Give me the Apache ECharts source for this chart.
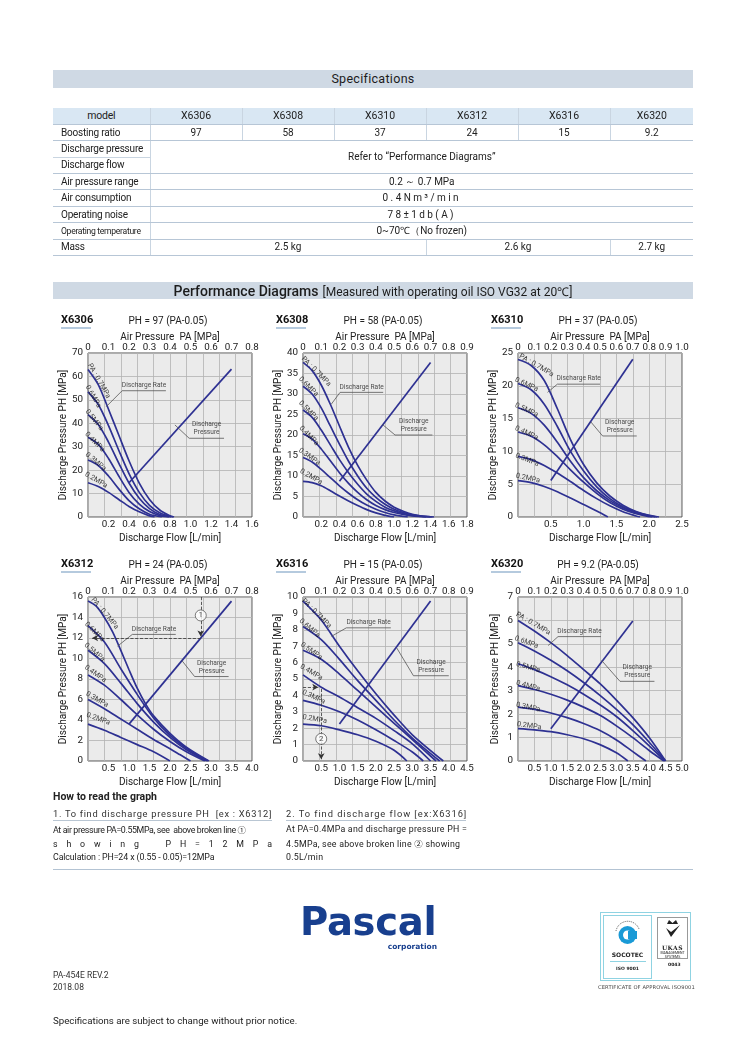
<!DOCTYPE html>
<html>
<head>
<meta charset="utf-8">
<title>Specifications / Performance Diagrams</title>
<script src="https://cdn.jsdelivr.net/npm/echarts/dist/echarts.min.js"></script>
<style>
  html, body { margin: 0; padding: 0; background: #fff; }
  #page { position: relative; width: 746px; height: 1055px; overflow: hidden;
    font-family: Roboto, sans-serif; color: #222; }
  #charts { position: absolute; left: 0; top: 0; width: 746px; height: 1055px; z-index: 1; }
  .abs { position: absolute; z-index: 2; white-space: nowrap; }
  .band { left: 53px; width: 640px; background: #cfd9e4; text-align: center; color: #1c1c1c; }
  #spec { left: 53px; top: 108px; width: 640px; border-collapse: collapse; table-layout: fixed; font-size: 10px; }
  #spec tr { height: 16.4px; }
  #spec td { padding: 0; border-bottom: 1px solid #b7c6d6; border-left: 1px solid #c9d5e1; text-align: center;
    line-height: 14px; white-space: nowrap; overflow: hidden; }
  #spec td.h { text-align: left; padding-left: 8px; border-left: none; letter-spacing: -0.2px; }
  #spec tr.head td { background: #d9e7f3; font-size: 10.5px; }
  .sp { letter-spacing: 2.4px; }
  .cjk { font-family: 'Noto Sans CJK JP'; font-size: 8.5px; }
</style>
</head>
<body>
<div id="page">
  <div id="charts"></div>

  <div class="abs band" style="top:70px;height:18px;line-height:18px;font-size:12.5px;letter-spacing:0.3px;">Specifications</div>
  <table id="spec" class="abs"></table>

  <div class="abs band" style="top:282px;height:17px;line-height:17px;">
    <span style="font-size:14px;font-weight:500;">Performance Diagrams</span>
    <span style="font-size:12px;">[Measured with operating oil ISO VG32 at 20℃]</span>
  </div>

  <div class="abs" style="left:53px;top:790px;font-size:10.5px;font-weight:bold;color:#222;">How to read the graph</div>
  <div class="abs" style="left:53px;top:808px;width:219px;font-size:9.3px;letter-spacing:0.7px;color:#333;border-bottom:1px solid #b9c6d3;padding-bottom:1px;overflow:hidden;">1. To find discharge pressure PH&nbsp; [ex : X6312]</div>
  <div class="abs" style="left:286px;top:808px;width:180px;font-size:9.3px;letter-spacing:0.95px;color:#333;border-bottom:1px solid #b9c6d3;padding-bottom:1px;">2. To find discharge flow [ex:X6316]</div>
  <div class="abs" style="left:53px;top:823px;width:219px;font-size:8.8px;line-height:13.5px;">
    <div style="letter-spacing:-0.35px;">At air pressure PA=0.55MPa, see&nbsp; above broken line <span class="cjk">①</span></div>
    <div style="text-align:justify;text-align-last:justify;white-space:normal;">s h o w i n g &nbsp; P H = 1 2 M P a</div>
    <div style="letter-spacing:-0.1px;">Calculation : PH=24 x (0.55 - 0.05)=12MPa</div>
  </div>
  <div class="abs" style="left:286px;top:823px;width:190px;font-size:8.8px;line-height:13.5px;letter-spacing:0.25px;">
    <div>At PA=0.4MPa and discharge pressure PH =</div>
    <div>4.5MPa, see above broken line <span class="cjk">②</span> showing</div>
    <div>0.5L/min</div>
  </div>
  <div class="abs" style="left:53px;top:869px;width:640px;height:0;border-top:1px solid #b3c3d3;"></div>

  <div class="abs" style="left:300px;top:899px;font-family:'DejaVu Sans';font-weight:bold;font-size:38.5px;color:#183f8e;letter-spacing:-0.3px;">Pascal</div>
  <div class="abs" style="left:377px;top:942px;width:60px;text-align:right;font-family:'DejaVu Sans';font-weight:bold;font-size:7.5px;color:#183f8e;">corporation</div>

  <div class="abs" style="left:53px;top:969px;font-size:8.5px;line-height:12px;color:#333;">PA-454E REV.2<br>2018.08</div>

  <div class="abs" style="left:600px;top:912px;width:89px;height:67px;border:1px solid #8fd3e2;"></div>
  <div class="abs" style="left:603px;top:915px;width:47px;height:62px;border:1px solid #8fd3e2;text-align:center;">
    <svg width="47" height="34" viewBox="0 0 47 34">
      <circle cx="23.5" cy="19" r="9" fill="#1a9ad6"/>
      <circle cx="23.5" cy="19" r="4.5" fill="#fff"/>
      <rect x="24" y="15" width="9" height="8" fill="#1a9ad6"/>
      <path d="M12 15 A12 12 0 0 1 35 13" stroke="#555" stroke-width="1" fill="none" stroke-dasharray="1 1"/>
    </svg>
    <div style="font-family:'DejaVu Sans';font-weight:bold;font-size:6px;margin-top:-3px;">SOCOTEC</div>
    <div style="width:36px;margin:3px auto 0;border-top:1px solid #8fd3e2;"></div>
    <div style="font-family:'DejaVu Sans';font-weight:bold;font-size:4.5px;margin-top:4px;">ISO 9001</div>
  </div>
  <div class="abs" style="left:657px;top:917px;width:29px;height:40px;border:1px solid #999;text-align:center;">
    <svg width="29" height="22" viewBox="0 0 29 22">
      <path d="M9 6 L11 2 L14.5 5 L18 2 L20 6 Z" fill="#222"/>
      <path d="M8 10 L13 19 L22 7 L13 14 Z" fill="#222"/>
    </svg>
    <div style="font-family:'DejaVu Serif';font-weight:bold;font-size:6px;letter-spacing:0.5px;">UKAS</div>
    <div style="font-size:3.5px;line-height:4px;">MANAGEMENT<br>SYSTEMS</div>
  </div>
  <div class="abs" style="left:668px;top:962px;font-family:'DejaVu Sans';font-size:4.5px;font-weight:bold;">0043</div>
  <div class="abs" style="left:598px;top:984px;width:96px;text-align:center;font-family:'DejaVu Sans';font-size:5.2px;color:#444;letter-spacing:0.1px;">CERTIFICATE OF APPROVAL ISO9001</div>

  <div class="abs" style="left:53px;top:1015px;font-size:9.7px;color:#222;">Specifications are subject to change without prior notice.</div>
</div>

<script>
// ---------------- data ----------------
const models = ['X6306', 'X6308', 'X6310', 'X6312', 'X6316', 'X6320'];
const boostRatio = ['97', '58', '37', '24', '15', '9.2'];
const massValues = ['2.5 kg', '2.6 kg', '2.7 kg'];
const massSpans = [3, 2, 1];

// axis ranges of each diagram
const flowMax = [1.6, 1.8, 2.5, 4.0, 4.5, 5.0];
const flowStep = [0.2, 0.2, 0.5, 0.5, 0.5, 0.5];
const paMax = [0.8, 0.9, 1.0, 0.8, 0.9, 1.0];
const phMax = [70, 40, 25, 16, 10, 7];
const phStep = [10, 5, 5, 2, 1, 1];

const paLabels = ['0.2MPa', '0.3MPa', '0.4MPa', '0.5MPa', '0.6MPa', 'PA : 0.7MPa'];

// discharge rate curves [flow L/min, PH MPa], PA = 0.2 ... 0.7
const rate6306 = [
  [[0,14.6],[0.1,13],[0.2,10.5],[0.3,7.5],[0.4,4.5],[0.5,2.2],[0.6,0.5],[0.65,0]],
  [[0,24.3],[0.1,22],[0.2,17.5],[0.3,12],[0.4,7],[0.5,3.5],[0.6,1.2],[0.72,0]],
  [[0,34],[0.1,31],[0.2,25],[0.3,17.5],[0.4,10.5],[0.5,5.5],[0.6,2.3],[0.7,0.6],[0.79,0]],
  [[0,43.7],[0.1,39.5],[0.2,32],[0.3,23],[0.4,14.5],[0.5,8],[0.6,3.6],[0.7,1.1],[0.81,0]],
  [[0,53.4],[0.1,48],[0.2,39],[0.3,28.5],[0.4,18.5],[0.5,10.5],[0.6,5],[0.7,1.8],[0.8,0.2],[0.83,0]],
  [[0,63],[0.1,56.5],[0.2,46],[0.3,35],[0.4,24],[0.5,14.5],[0.6,7.5],[0.7,3],[0.8,0.5],[0.84,0]]
];
const rate6308 = [
  [[0,8.7],[0.1,8.4],[0.2,7.6],[0.3,6.4],[0.4,5.1],[0.5,3.9],[0.6,2.8],[0.7,1.8],[0.8,1],[0.9,0.4],[1.0,0]],
  [[0,14.5],[0.1,13.4],[0.2,11.6],[0.3,9.6],[0.4,7.6],[0.5,5.8],[0.6,4.2],[0.7,2.9],[0.8,1.9],[0.9,1.1],[1.0,0.5],[1.15,0]],
  [[0,20.3],[0.1,19],[0.2,16.6],[0.3,13.7],[0.4,10.8],[0.5,8.2],[0.6,6],[0.7,4.2],[0.8,2.8],[0.9,1.8],[1.0,1.1],[1.1,0.6],[1.2,0.25],[1.35,0]],
  [[0,26.1],[0.1,24.3],[0.2,21.2],[0.3,17.6],[0.4,14],[0.5,10.8],[0.6,8],[0.7,5.6],[0.8,3.8],[0.9,2.4],[1.0,1.5],[1.1,0.85],[1.2,0.4],[1.3,0.15],[1.4,0]],
  [[0,31.9],[0.1,30],[0.2,26.6],[0.3,22.2],[0.4,17.8],[0.5,13.6],[0.6,10],[0.7,7],[0.8,4.8],[0.9,3.1],[1.0,1.9],[1.1,1.1],[1.2,0.5],[1.3,0.2],[1.42,0]],
  [[0,37.7],[0.1,35.7],[0.2,32.2],[0.3,27.5],[0.4,22.2],[0.5,17],[0.6,12.6],[0.7,9],[0.8,6],[0.9,3.9],[1.0,2.4],[1.1,1.4],[1.2,0.65],[1.3,0.2],[1.44,0]]
];
const rate6310 = [
  [[0,5.55],[0.2,5.25],[0.4,4.65],[0.6,3.85],[0.8,2.9],[1.0,1.9],[1.2,0.9],[1.37,0]],
  [[0,9.25],[0.2,8.75],[0.4,7.85],[0.6,6.7],[0.8,5.4],[1.0,4.05],[1.2,2.8],[1.4,1.7],[1.6,0.8],[1.8,0.15],[1.86,0]],
  [[0,12.95],[0.2,12.3],[0.4,11],[0.6,9.2],[0.8,7.2],[1.0,5.3],[1.2,3.6],[1.4,2.2],[1.6,1.2],[1.8,0.5],[2.0,0.05],[2.05,0]],
  [[0,16.65],[0.2,15.8],[0.4,14],[0.6,11.4],[0.8,8.5],[1.0,6],[1.2,4],[1.4,2.5],[1.6,1.4],[1.8,0.65],[2.0,0.15],[2.09,0]],
  [[0,20.35],[0.2,19.4],[0.4,17.2],[0.6,13.8],[0.8,10],[1.0,7],[1.2,4.6],[1.4,2.8],[1.6,1.55],[1.8,0.75],[2.0,0.2],[2.12,0]],
  [[0,24],[0.2,23.1],[0.4,20.8],[0.6,16.5],[0.8,11.8],[1.0,8],[1.2,5.2],[1.4,3.2],[1.6,1.8],[1.8,0.85],[2.0,0.25],[2.15,0]]
];
const rate6312 = [
  [[0,3.6],[0.4,3],[0.8,2.3],[1.2,1.6],[1.6,0.9],[2.0,0]],
  [[0,6],[0.4,5.1],[0.8,4.1],[1.2,3.1],[1.6,2.1],[2.0,1.2],[2.25,0.6],[2.5,0]],
  [[0,8.4],[0.4,7.4],[0.8,6],[1.2,4.5],[1.6,3.1],[2.0,1.9],[2.4,0.9],[2.85,0]],
  [[0,10.8],[0.4,9.5],[0.8,7.6],[1.2,5.6],[1.6,3.8],[2.0,2.3],[2.4,1.1],[2.9,0]],
  [[0,13.2],[0.4,11.6],[0.8,9],[1.2,6.5],[1.6,4.2],[2.0,2.5],[2.4,1.25],[2.93,0]],
  [[0,15.6],[0.2,15.1],[0.4,14],[0.6,12.6],[0.8,10.8],[1.0,8.9],[1.2,7.1],[1.4,5.6],[1.6,4.4],[2.0,2.7],[2.4,1.35],[2.95,0]]
];
const rate6316 = [
  [[0,2.25],[0.5,2.15],[1.0,1.9],[1.5,1.6],[2.0,1.2],[2.5,0.65],[2.85,0]],
  [[0,3.7],[0.5,3.4],[1.0,3.0],[1.5,2.5],[2.0,1.9],[2.5,1.25],[3.0,0.55],[3.3,0]],
  [[0,5.25],[0.5,4.5],[1.0,3.9],[1.5,3.25],[2.0,2.6],[2.5,1.85],[3.0,1.05],[3.5,0]],
  [[0,6.75],[0.5,6.2],[1.0,5.3],[1.5,4.3],[2.0,3.3],[2.5,2.3],[3.0,1.3],[3.65,0]],
  [[0,8.2],[0.5,7.4],[1.0,6.2],[1.5,4.9],[2.0,3.7],[2.5,2.5],[3.0,1.4],[3.75,0]],
  [[0,9.75],[0.5,8.6],[1.0,7.0],[1.5,5.5],[2.0,4.1],[2.5,2.8],[3.0,1.6],[3.85,0]]
];
const rate6320 = [
  [[0,1.38],[0.5,1.33],[1.0,1.25],[1.5,1.12],[2.0,0.95],[2.5,0.7],[3.0,0.35],[3.35,0]],
  [[0,2.3],[0.5,2.2],[1.0,2.05],[1.5,1.85],[2.0,1.6],[2.5,1.3],[3.0,0.9],[3.5,0.4],[3.9,0]],
  [[0,3.22],[0.5,3.05],[1.0,2.85],[1.5,2.6],[2.0,2.3],[2.5,1.95],[3.0,1.5],[3.5,1.0],[4.0,0.45],[4.45,0]],
  [[0,4.15],[0.5,3.9],[1.0,3.6],[1.5,3.25],[2.0,2.85],[2.5,2.4],[3.0,1.9],[3.5,1.3],[4.0,0.65],[4.48,0]],
  [[0,5.05],[0.5,4.7],[1.0,4.3],[1.5,3.85],[2.0,3.35],[2.5,2.8],[3.0,2.2],[3.5,1.55],[4.0,0.8],[4.5,0]],
  [[0,6],[0.5,5.55],[1.0,5.05],[1.5,4.5],[2.0,3.9],[2.5,3.3],[3.0,2.6],[3.5,1.85],[4.0,1.0],[4.5,0]]
];
const rateCurves = [rate6306, rate6308, rate6310, rate6312, rate6316, rate6320];

// discharge pressure lines [PA MPa, PH MPa]
const press6306 = [[0.2, 14.6], [0.7, 63.1]];
const press6308 = [[0.2, 8.7], [0.7, 37.7]];
const press6310 = [[0.2, 5.55], [0.7, 24.05]];
const press6312 = [[0.2, 3.6], [0.7, 15.6]];
const press6316 = [[0.2, 2.25], [0.7, 9.75]];
const press6320 = [[0.2, 1.38], [0.7, 5.98]];
const pressLines = [press6306, press6308, press6310, press6312, press6316, press6320];

// ---------------- spec table ----------------
(function buildTable() {
  const t = document.getElementById('spec');
  let h = '<colgroup><col style="width:97px">' + '<col style="width:92px">'.repeat(5) + '<col style="width:83px"></colgroup>';
  h += '<tr class="head"><td class="h" style="text-align:center;padding-left:0">model</td>' + models.map(m => '<td>' + m + '</td>').join('') + '</tr>';
  h += '<tr><td class="h">Boosting ratio</td>' + boostRatio.map(r => '<td>' + r + '</td>').join('') + '</tr>';
  h += '<tr><td class="h" style="border-bottom:1px solid #c9d5e1">Discharge pressure</td><td colspan="6" rowspan="2">Refer to “Performance Diagrams”</td></tr>';
  h += '<tr><td class="h">Discharge flow</td></tr>';
  h += '<tr><td class="h">Air pressure range</td><td colspan="6">0.2 ～ 0.7 MPa</td></tr>';
  h += '<tr><td class="h">Air consumption</td><td colspan="6" class="sp">0.4Nm³/min</td></tr>';
  h += '<tr><td class="h">Operating noise</td><td colspan="6" class="sp">78±1db(A)</td></tr>';
  h += '<tr><td class="h" style="font-size:8.6px;letter-spacing:-0.3px">Operating temperature</td><td colspan="6">0~70℃（No frozen)</td></tr>';
  h += '<tr><td class="h">Mass</td>' + massValues.map((v, k) => '<td colspan="' + massSpans[k] + '">' + v + '</td>').join('') + '</tr>';
  t.innerHTML = h;
})();

// ---------------- diagrams ----------------
const FONT = 'Roboto, sans-serif';
const NAVY = '#2e3192';
const GX = [88, 303, 518], GY = [353, 597], GS = 164;

// label anchors [flow, PH, rotation] per curve (PA 0.2 ... 0.7)
const labelPos = [
  [[0.08,15.7,-30],[0.075,23.6,-40],[0.065,32,-45],[0.06,41.4,-52],[0.05,51.4,-60],[0.107,58.1,-60]],
  [[0.09,9.8,-30],[0.07,14.7,-35],[0.065,19.8,-45],[0.06,25.9,-45],[0.06,31.8,-45],[0.145,35.5,-45]],
  [[0.15,5.9,-12],[0.14,8.7,-22],[0.13,12.8,-25],[0.13,16.3,-25],[0.13,20.2,-25],[0.28,23.1,-30]],
  [[0.25,4.1,-20],[0.22,6.0,-30],[0.18,8.5,-35],[0.16,10.6,-40],[0.16,12.6,-45],[0.41,14.4,-50]],
  [[0.32,2.55,-10],[0.29,3.9,-25],[0.23,5.4,-30],[0.23,6.7,-35],[0.18,8.1,-40],[0.37,9.0,-45]],
  [[0.34,1.5,-8],[0.31,2.29,-12],[0.31,3.2,-15],[0.31,4.0,-15],[0.26,5.07,-20],[0.46,5.86,-30]]
];
// callouts: [pointX, pointY, underlineX1, underlineX2, underlineY]
const rateNote = [
  [0.178,47.1,0.333,0.76,53.9], [0.31,27.5,0.407,0.88,30.4], [0.45,19.0,0.6,1.25,20.25],
  [0.72,11.2,1.08,2.14,12.35], [0.78,7.6,1.19,2.41,8.12], [0.92,4.93,1.22,2.53,5.31]
];
const pressNote = [
  [0.848,39.3,0.987,1.327,33.6], [0.87,22.6,1.01,1.42,20], [1.11,14.5,1.29,1.81,12.35],
  [2.29,9.8,2.6,3.43,8.24], [2.57,6.9,3.03,4.0,5.2], [2.55,4.29,3.11,4.16,3.4]
];

const chart = echarts.init(document.getElementById('charts'));
const option = {
  animation: false,
  textStyle: { fontFamily: FONT, color: '#222' },
  grid: [], xAxis: [], yAxis: [], series: [], graphic: []
};

const lbl = { fontFamily: FONT, color: '#222', fontSize: 9.8 };
const nameLbl = { fontFamily: FONT, color: '#222', fontSize: 10 };

models.forEach((m, i) => {
  const left = GX[i % 3], top = GY[Math.floor(i / 3)];
  option.grid.push({ left: left, top: top, width: GS, height: GS, show: true,
    backgroundColor: '#ebebeb', borderColor: '#555', borderWidth: 1 });

  option.xAxis.push({
    gridIndex: i, type: 'value', position: 'bottom', min: 0, max: flowMax[i], interval: flowStep[i],
    axisLine: { show: false }, axisTick: { show: false }, splitLine: { show: false },
    axisLabel: Object.assign({ margin: 3, formatter: v => v === 0 ? '' : v.toFixed(1) }, lbl),
    name: 'Discharge Flow [L/min]', nameLocation: 'middle', nameGap: 16, nameTextStyle: nameLbl
  });
  option.xAxis.push({
    gridIndex: i, type: 'value', position: 'top', min: 0, max: paMax[i], interval: 0.1,
    axisLine: { show: false }, axisTick: { show: false }, splitLine: { show: false },
    axisLabel: Object.assign({ margin: 0, formatter: v => v === 0 ? '0' : v.toFixed(1) }, lbl),
    name: 'Air Pressure  PA [MPa]', nameLocation: 'middle', nameGap: 11, nameTextStyle: nameLbl
  });
  option.xAxis.push({
    gridIndex: i, type: 'value', position: 'bottom', min: 0, max: 10, interval: 1,
    axisLine: { show: false }, axisTick: { show: false }, axisLabel: { show: false },
    splitLine: { show: true, lineStyle: { color: '#b3b3b3', width: 0.8 } }
  });
  option.yAxis.push({
    gridIndex: i, type: 'value', min: 0, max: phMax[i], interval: phStep[i],
    axisLine: { show: false }, axisTick: { show: false },
    splitLine: { show: true, lineStyle: { color: '#b3b3b3', width: 0.8 } },
    axisLabel: Object.assign({ margin: 5 }, lbl),
    name: 'Discharge Pressure PH [MPa]', nameLocation: 'middle', nameGap: 18, nameTextStyle: nameLbl
  });

  const xb = 3 * i, xt = 3 * i + 1;
  rateCurves[i].forEach(curve => {
    option.series.push({
      type: 'line', xAxisIndex: xb, yAxisIndex: i, data: curve, smooth: 0.3,
      symbol: 'none', silent: true, lineStyle: { color: NAVY, width: 1.7 }, z: 3
    });
  });
  option.series.push({
    type: 'line', xAxisIndex: xt, yAxisIndex: i, data: pressLines[i],
    symbol: 'none', silent: true, lineStyle: { color: NAVY, width: 1.7 }, z: 3
  });

  // curve labels
  option.series.push({
    type: 'scatter', xAxisIndex: xb, yAxisIndex: i, symbolSize: 1, silent: true, z: 4,
    itemStyle: { color: 'transparent' },
    label: { show: true, position: 'inside', fontFamily: FONT, fontSize: 7.2, color: '#111' },
    data: labelPos[i].map((p, k) => ({ value: [p[0], p[1]], label: { formatter: paLabels[k], rotate: p[2] } }))
  });

  // callouts
  const r = rateNote[i], p = pressNote[i];
  [[r, 'Discharge Rate'], [p, 'Discharge\nPressure']].forEach(([n, txt]) => {
    option.series.push({
      type: 'line', xAxisIndex: xb, yAxisIndex: i, symbol: 'none', silent: true, z: 4,
      lineStyle: { color: '#555', width: 0.8 },
      data: [[n[0], n[1]], [n[2], n[4]], [n[3], n[4]]]
    });
    option.series.push({
      type: 'scatter', xAxisIndex: xb, yAxisIndex: i, symbolSize: 1, silent: true, z: 4,
      itemStyle: { color: 'transparent' },
      label: { show: true, position: 'top', distance: 1, fontFamily: FONT, fontSize: 6.6,
        lineHeight: 8, color: '#222', formatter: txt },
      data: [[(n[2] + n[3]) / 2, n[4]]]
    });
  });

  // titles
  option.graphic.push({ type: 'text', x: left - 27, y: top - 33, z: 10,
    style: { text: m, fontFamily: FONT, fontWeight: 'bold', fontSize: 11, fill: '#111', verticalAlign: 'middle' } });
  option.graphic.push({ type: 'line', z: 10, shape: { x1: left - 27, y1: top - 25, x2: left + 3, y2: top - 25 },
    style: { stroke: '#9db8d3', lineWidth: 1.5 } });
  option.graphic.push({ type: 'text', x: left + 80, y: top - 32, z: 10,
    style: { text: 'PH = ' + boostRatio[i] + ' (PA-0.05)', fontFamily: FONT, fontSize: 10, fill: '#222',
      align: 'center', verticalAlign: 'middle' } });
});

// broken-line examples
const dash = { type: 'dashed', color: '#333', width: 0.8 };
function circleMark(xIdx, yIdx, pt, txt) {
  return { type: 'scatter', xAxisIndex: xIdx, yAxisIndex: yIdx, symbol: 'circle', symbolSize: 11, silent: true, z: 6,
    itemStyle: { color: '#fff', borderColor: '#333', borderWidth: 0.8 },
    label: { show: true, position: 'inside', formatter: txt, fontSize: 8, color: '#222', fontFamily: FONT },
    data: [pt] };
}
// X6312: PA 0.55 -> PH 12
option.series.push({
  type: 'line', xAxisIndex: 9, yAxisIndex: 3, data: [], silent: true,
  markLine: { silent: true, symbol: ['none', 'arrow'], symbolSize: [5, 6], lineStyle: dash, label: { show: false },
    data: [[{ coord: [2.75, 16] }, { coord: [2.75, 12.15] }], [{ coord: [2.75, 12] }, { coord: [0.1, 12] }]] }
});
option.series.push(circleMark(9, 3, [2.75, 14.2], '1'));
// X6316: PA 0.4, PH 4.5 -> 0.5 L/min
option.series.push({
  type: 'line', xAxisIndex: 12, yAxisIndex: 4, data: [], silent: true,
  markLine: { silent: true, symbol: ['none', 'arrow'], symbolSize: [5, 6], lineStyle: dash, label: { show: false },
    data: [[{ coord: [0, 4.5] }, { coord: [0.42, 4.5] }], [{ coord: [0.5, 4.4] }, { coord: [0.5, 0.1] }]] }
});
option.series.push(circleMark(12, 4, [0.5, 1.35], '2'));

chart.setOption(option);
</script>
</body>
</html>
